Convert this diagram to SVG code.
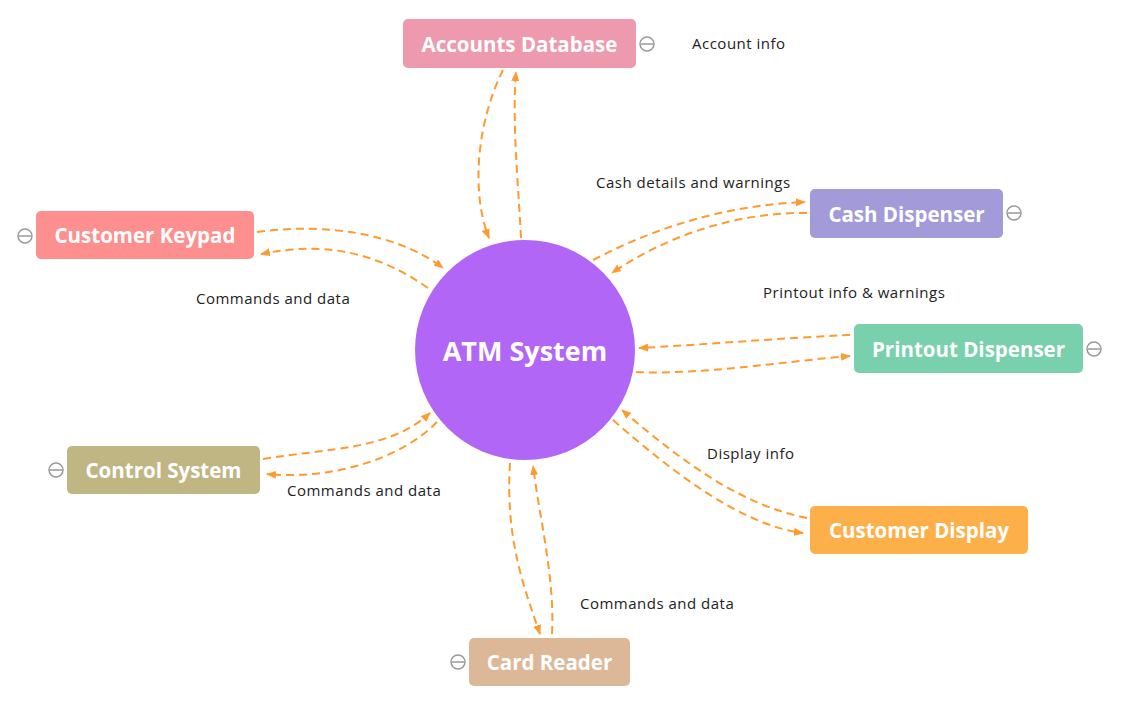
<svg xmlns="http://www.w3.org/2000/svg" width="1142" height="707" viewBox="0 0 1142 707">
<defs>
<marker id="arr" markerWidth="10" markerHeight="8" refX="9" refY="4" orient="auto" markerUnits="userSpaceOnUse">
<path d="M0,0 L10,4 L0,8 Z" fill="#ff9a2e"/>
</marker>
</defs>
<style>
.node text{font-family:"Open Sans","Noto Sans",sans-serif;font-weight:bold;font-size:20.5px;fill:#fff;text-anchor:middle;dominant-baseline:central}
.lbl{font-family:"Open Sans","Noto Sans",sans-serif;font-size:15px;letter-spacing:0.5px;fill:#222}
.conn path{fill:none;stroke:#ff9a2e;stroke-width:2;stroke-dasharray:8 5;marker-end:url(#arr)}
.mn circle{fill:none;stroke:#999;stroke-width:1.5}
.mn line{stroke:#999;stroke-width:1.5}
</style>
<rect width="1142" height="707" fill="#fff"/>
<g class="conn">
<path d="M503,70 C478,120 470,190 489,238"/>
<path d="M521,238 C518,180 512,120 516,72"/>
<path d="M257,232 C330,222 400,235 443,268"/>
<path d="M428,288 C380,255 330,240 261,254"/>
<path d="M593,260 C660,225 730,205 805,202"/>
<path d="M807,213 C730,212 660,240 612,273"/>
<path d="M850,335 C780,338 700,345 639,348"/>
<path d="M636,372 C700,375 780,362 850,356"/>
<path d="M807,518 C740,505 680,460 622,410"/>
<path d="M613,420 C670,470 740,525 803,533"/>
<path d="M510,463 C505,540 525,590 540,634"/>
<path d="M552,634 C555,580 540,520 533,466"/>
<path d="M263,459 C330,448 390,450 430,413"/>
<path d="M437,422 C400,460 330,480 267,474"/>
</g>
<g id="atm" class="node">
<circle cx="525" cy="350" r="110" fill="#b266f5"/>
<text x="525" y="350" style="font-size:27px">ATM System</text>
</g>
<g id="accounts-db" class="node">
<rect x="403" y="19" width="233" height="49" rx="5" fill="#ed9aae"/>
<text x="519.5" y="43.5">Accounts Database</text>
<g class="mn"><circle cx="647" cy="44" r="7"/><line x1="641" y1="44" x2="653" y2="44"/></g>
</g>
<g id="keypad" class="node">
<rect x="36" y="211" width="218" height="48" rx="5" fill="#fd8f8f"/>
<text x="145" y="235">Customer Keypad</text>
<g class="mn"><circle cx="25" cy="236" r="7"/><line x1="19" y1="236" x2="31" y2="236"/></g>
</g>
<g id="cash" class="node">
<rect x="810" y="189" width="193" height="49" rx="5" fill="#a29ad9"/>
<text x="906.5" y="213.5">Cash Dispenser</text>
<g class="mn"><circle cx="1014" cy="213" r="7"/><line x1="1008" y1="213" x2="1020" y2="213"/></g>
</g>
<g id="printout" class="node">
<rect x="854" y="324" width="229" height="49" rx="5" fill="#78d0ac"/>
<text x="968.5" y="348.5">Printout Dispenser</text>
<g class="mn"><circle cx="1094" cy="349" r="7"/><line x1="1088" y1="349" x2="1100" y2="349"/></g>
</g>
<g id="control" class="node">
<rect x="67" y="446" width="193" height="48" rx="5" fill="#bfb683"/>
<text x="163.5" y="470">Control System</text>
<g class="mn"><circle cx="56" cy="470" r="7"/><line x1="50" y1="470" x2="62" y2="470"/></g>
</g>
<g id="display" class="node">
<rect x="810" y="506" width="218" height="48" rx="5" fill="#fdb04a"/>
<text x="919" y="530">Customer Display</text>
</g>
<g id="card" class="node">
<rect x="469" y="638" width="161" height="48" rx="5" fill="#dcb898"/>
<text x="549.5" y="662">Card Reader</text>
<g class="mn"><circle cx="458" cy="662" r="7"/><line x1="452" y1="662" x2="464" y2="662"/></g>
</g>
<g id="labels">
<text class="lbl" x="692" y="49">Account info</text>
<text class="lbl" x="596" y="188">Cash details and warnings</text>
<text class="lbl" x="196" y="304">Commands and data</text>
<text class="lbl" x="763" y="298">Printout info &amp; warnings</text>
<text class="lbl" x="707" y="459">Display info</text>
<text class="lbl" x="287" y="496">Commands and data</text>
<text class="lbl" x="580" y="609">Commands and data</text>
</g>
</svg>
